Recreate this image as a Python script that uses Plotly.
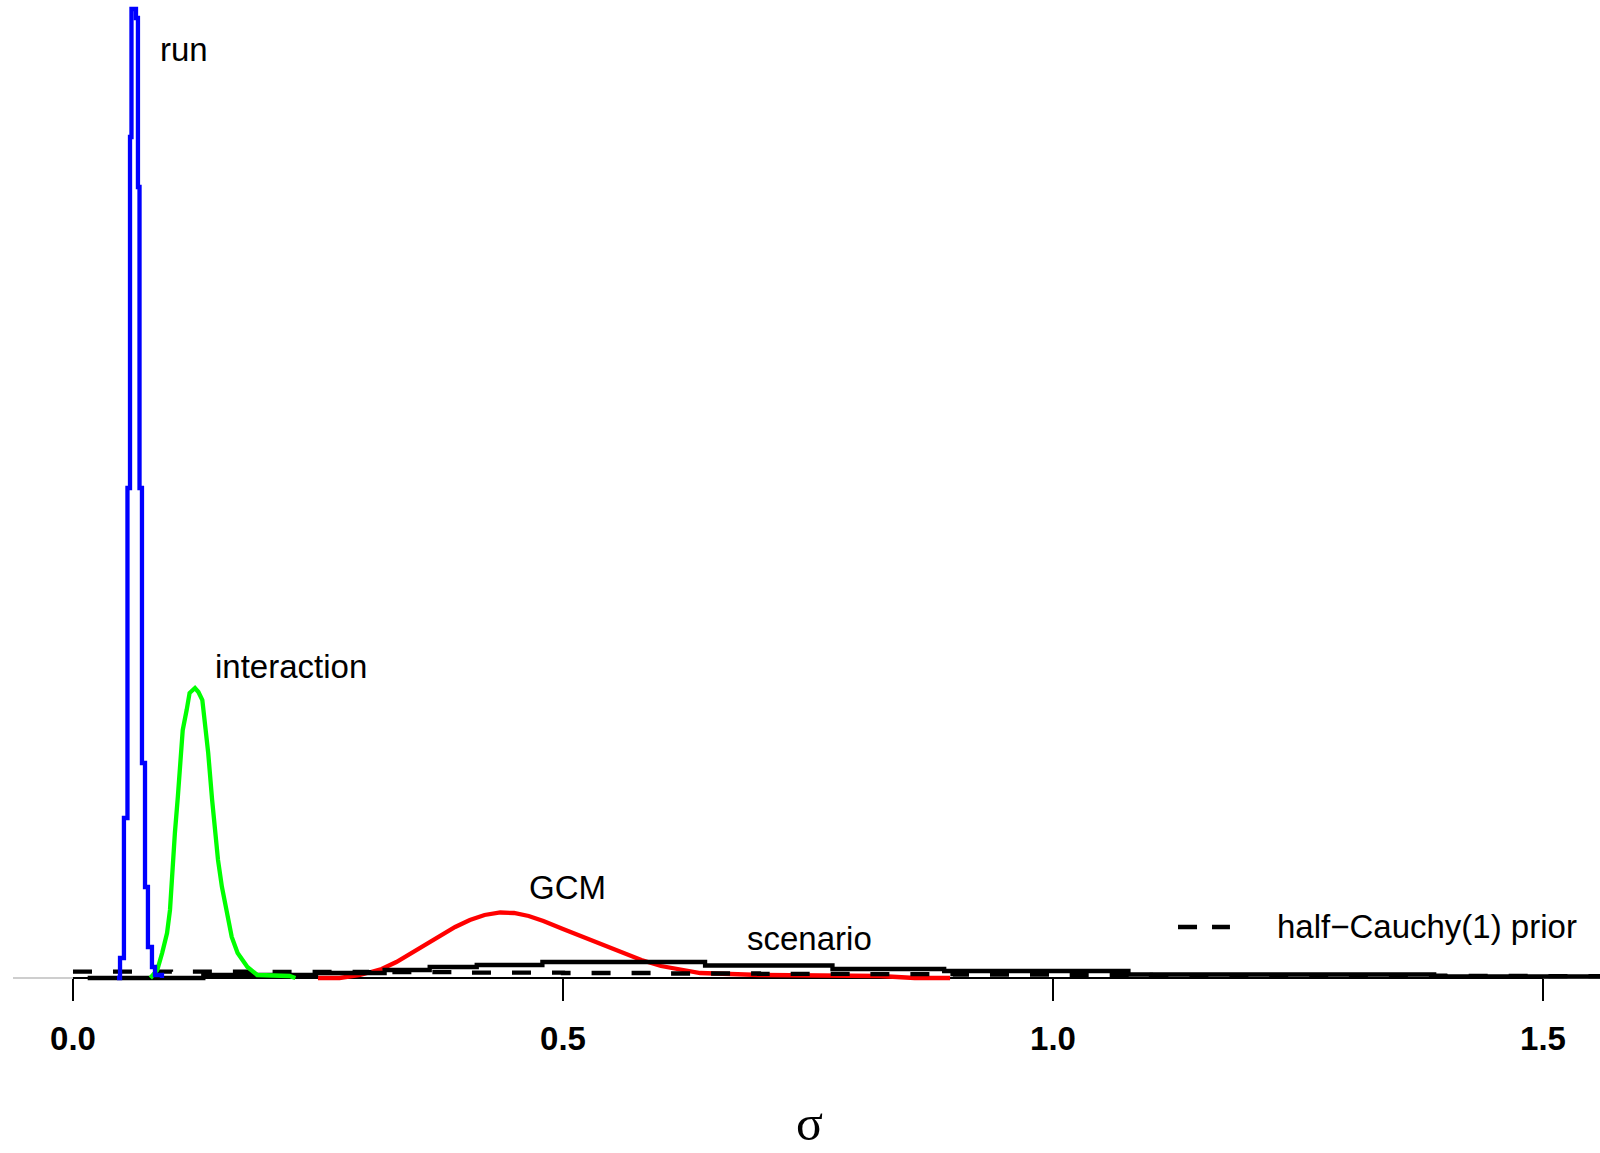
import plotly.graph_objects as go

# ---- data ----
# run posterior (step histogram): left bin edges and density heights
run_x = [0.0449, 0.0480, 0.0520, 0.0556, 0.0582, 0.0597, 0.0643, 0.0663, 0.0679,
         0.0704, 0.0735, 0.0765, 0.0806, 0.0837, 0.0908]
run_y = [0.0, 2.0, 16.0, 49.0, 84.1, 96.9, 96.0, 79.1, 49.0, 21.5, 9.1, 3.1, 1.1, 0.3, 0.0]

# interaction posterior
int_x = [0.079, 0.086, 0.091, 0.096, 0.099, 0.101, 0.104, 0.107, 0.109, 0.112, 0.116,
         0.119, 0.1245, 0.128, 0.132, 0.135, 0.138, 0.142, 0.145, 0.148, 0.152, 0.157,
         0.162, 0.168, 0.178, 0.188, 0.208, 0.221, 0.227]
int_y = [0.0, 0.8, 2.5, 4.5, 6.8, 10.5, 14.5, 18.1, 21.5, 24.8, 26.8, 28.5, 29.0, 28.6,
         27.8, 25.1, 22.5, 17.8, 14.8, 11.8, 9.1, 6.5, 4.1, 2.5, 1.1, 0.3, 0.2, 0.2, 0.0]

# GCM posterior
gcm_x = [0.250, 0.272, 0.293, 0.315, 0.330, 0.345, 0.360, 0.375, 0.390, 0.405, 0.420,
         0.436, 0.450, 0.465, 0.480, 0.500, 0.520, 0.540, 0.560, 0.580, 0.600, 0.620,
         0.640, 0.701, 0.762, 0.823, 0.859, 0.895]
gcm_y = [0.0, 0.0, 0.3, 0.9, 1.6, 2.5, 3.4, 4.3, 5.1, 5.8, 6.3, 6.55, 6.5, 6.2, 5.7,
         4.9, 4.1, 3.3, 2.5, 1.8, 1.2, 0.8, 0.5, 0.3, 0.3, 0.2, 0.0, 0.0]

# scenario posterior (coarse step histogram)
scen_x = [0.015, 0.133, 0.248, 0.318, 0.364, 0.412, 0.479, 0.645, 0.775, 0.889, 1.077,
          1.389, 1.600]
scen_y = [0.0, 0.3, 0.5, 0.8, 1.1, 1.3, 1.6, 1.25, 0.9, 0.7, 0.35, 0.15, 0.15]

# half-Cauchy(1) prior (step histogram of prior draws)
prior_x = [0.0, 0.1, 0.2, 0.3, 0.4, 0.5, 0.6, 0.7, 0.8, 0.9, 1.0, 1.1, 1.2, 1.3, 1.4,
           1.5, 1.6]
prior_y = [0.64, 0.63, 0.60, 0.58, 0.54, 0.50, 0.45, 0.41, 0.38, 0.34, 0.31, 0.28,
           0.26, 0.23, 0.21, 0.19, 0.19]

tick_vals = [0.0, 0.5, 1.0, 1.5]
tick_text = ["0.0", "0.5", "1.0", "1.5"]

labels = ["run", "interaction", "GCM", "scenario"]
label_x = [0.0867, 0.1429, 0.4633, 0.6857]
label_y = [92.9, 31.2, 9.1, 4.0]

legend_text = "half\u2212Cauchy(1) prior"
x_title = "\u03c3"

# ---- figure ----
FONT = "Liberation Sans, Arial, sans-serif"
LW = 4.3

fig = go.Figure()
fig.add_trace(go.Scatter(x=gcm_x, y=gcm_y, mode="lines",
                         line=dict(color="#FF0000", width=LW), name="GCM"))
fig.add_trace(go.Scatter(x=scen_x, y=scen_y, mode="lines",
                         line=dict(color="#000000", width=LW, shape="hv"), name="scenario"))
fig.add_trace(go.Scatter(x=prior_x, y=prior_y, mode="lines",
                         line=dict(color="#000000", width=LW, shape="hv", dash="19px,21px"),
                         name="prior"))
fig.add_trace(go.Scatter(x=int_x, y=int_y, mode="lines",
                         line=dict(color="#00FF00", width=LW), name="interaction"))
fig.add_trace(go.Scatter(x=run_x, y=run_y, mode="lines",
                         line=dict(color="#0000FF", width=LW, shape="hv"), name="run"))

shapes = [
    # gray zero line across plot region
    dict(type="line", xref="paper", yref="y", x0=0, x1=1, y0=0, y1=0,
         line=dict(color="#BEBEBE", width=1.5), layer="below"),
    # axis line from first to last tick
    dict(type="line", xref="x", yref="y", x0=tick_vals[0], x1=tick_vals[-1], y0=0, y1=0,
         line=dict(color="#000000", width=2), layer="below"),
    # legend sample
    dict(type="line", xref="x", yref="y", x0=1.1276, x1=1.1806, y0=5.1, y1=5.1,
         line=dict(color="#000000", width=LW, dash="19px,15px")),
]

annotations = []
for t, xx, yy in zip(labels, label_x, label_y):
    annotations.append(dict(x=xx, y=yy, xref="x", yref="y", text=t, showarrow=False,
                            xanchor="left", yanchor="middle",
                            font=dict(family=FONT, size=33, color="#000000")))
annotations.append(dict(x=1.2265, y=5.2, xref="x", yref="y", text=legend_text,
                        showarrow=False, xanchor="left", yanchor="middle",
                        font=dict(family=FONT, size=33, color="#000000")))
# axis title (sigma), box kept inside the page
annotations.append(dict(x=0.5022, y=-0.153, xref="paper", yref="paper", text=x_title,
                        showarrow=False, xanchor="center", yanchor="bottom",
                        font=dict(family="Liberation Serif, DejaVu Serif, serif",
                                  size=50, color="#000000")))

fig.update_layout(
    width=1600, height=1153,
    margin=dict(l=13, r=0, t=0, b=153),
    paper_bgcolor="white", plot_bgcolor="white",
    showlegend=False,
    shapes=shapes,
    annotations=annotations,
    xaxis=dict(range=[-0.0612, 1.5582], anchor="free", position=0.022,
               showgrid=False, zeroline=False, showline=False,
               tickmode="array", tickvals=tick_vals, ticktext=tick_text,
               ticks="outside", ticklen=22, tickwidth=2, tickcolor="#000000",
               ticklabelstandoff=9,
               tickfont=dict(family=FONT, size=33, color="#000000", weight="bold")),
    yaxis=dict(range=[-2.2, 97.8], visible=False, showgrid=False, zeroline=False),
)

fig.write_html("out.html")
